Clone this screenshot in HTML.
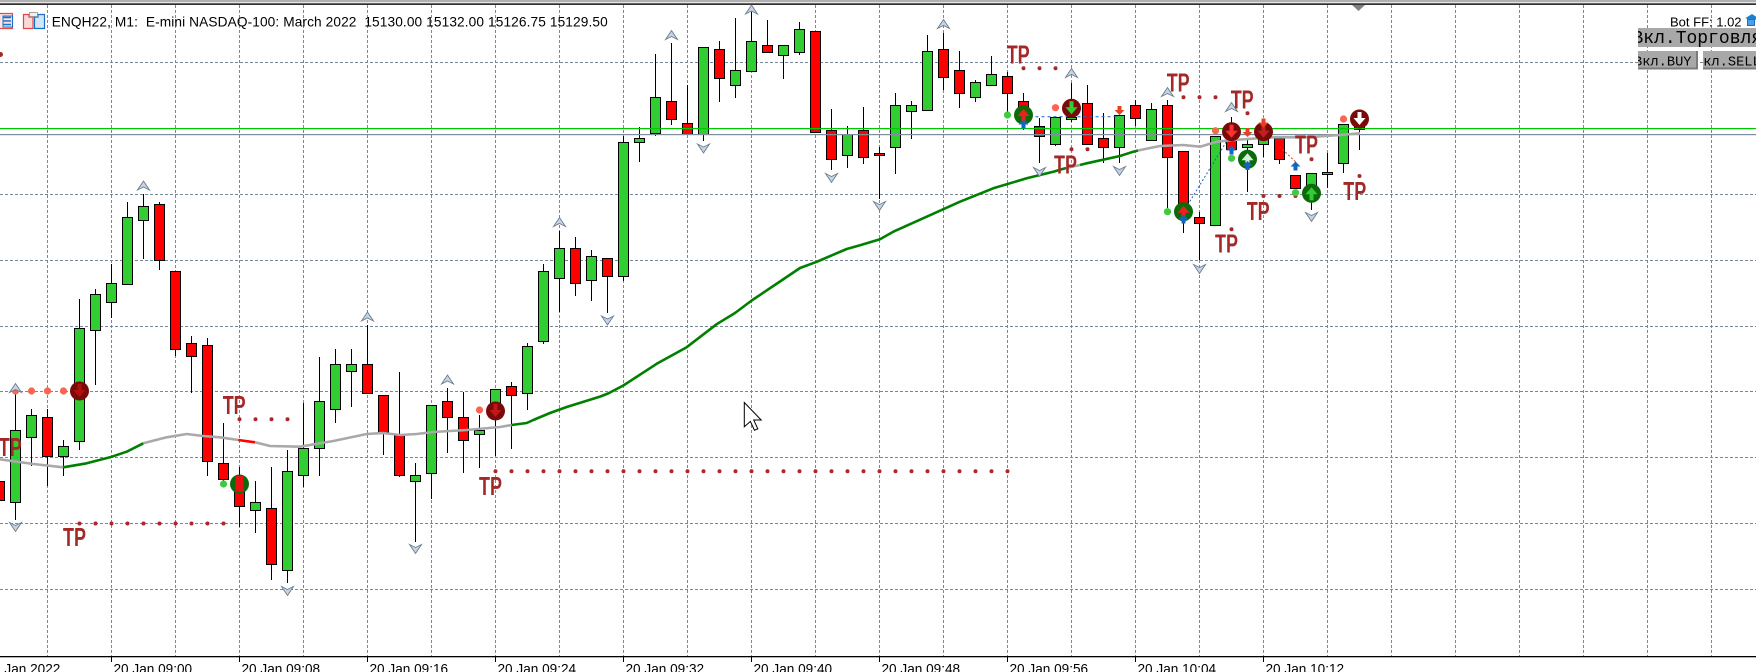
<!DOCTYPE html>
<html><head><meta charset="utf-8">
<style>
html,body{margin:0;padding:0;background:#fff;overflow:hidden;width:1756px;height:672px}
svg{display:block}
text{font-family:"Liberation Sans",sans-serif}
.tp{font-family:"Liberation Sans Narrow","Liberation Sans",sans-serif;font-weight:bold;font-size:26px;fill:#a32828}
.mono{font-family:"Liberation Mono",monospace;fill:#000}
</style></head>
<body>
<svg xmlns="http://www.w3.org/2000/svg" width="1756" height="672" viewBox="0 0 1756 672">
<rect width="1756" height="672" fill="#fff"/>
<!-- top border -->
<rect x="0" y="0" width="1756" height="2.3" fill="#b0b0b0"/>
<rect x="0" y="3.4" width="1756" height="1.4" fill="#000"/>
<!-- grid -->
<path d="M47.5 5V656M111.5 5V656M175.5 5V656M239.5 5V656M303.5 5V656M367.5 5V656M431.5 5V656M495.5 5V656M559.5 5V656M623.5 5V656M687.5 5V656M751.5 5V656M815.5 5V656M879.5 5V656M943.5 5V656M1007.5 5V656M1071.5 5V656M1135.5 5V656M1199.5 5V656M1263.5 5V656M1327.5 5V656M1391.5 5V656M1455.5 5V656M1519.5 5V656M1583.5 5V656M1647.5 5V656M1711.5 5V656" stroke="#778899" stroke-width="1" stroke-dasharray="3,2" fill="none"/>
<path d="M0 62.5H1756M0 128.5H1756M0 194.5H1756M0 260.5H1756M0 326.5H1756M0 391.5H1756M0 457.5H1756M0 523.5H1756M0 589.5H1756" stroke="#778899" stroke-width="1" stroke-dasharray="3,2" fill="none"/>
<!-- x axis -->
<rect x="0" y="656" width="1756" height="1.3" fill="#000"/>
<path d="M-16.5 656V662M111.5 656V662M239.5 656V662M367.5 656V662M495.5 656V662M623.5 656V662M751.5 656V662M879.5 656V662M1007.5 656V662M1135.5 656V662M1263.5 656V662" stroke="#000" stroke-width="1"/>
<g font-size="13.6" fill="#000">
<text x="-14.5" y="673.5">20 Jan 2022</text>
<text x="113.5" y="673.5">20 Jan 09:00</text>
<text x="241.5" y="673.5">20 Jan 09:08</text>
<text x="369.5" y="673.5">20 Jan 09:16</text>
<text x="497.5" y="673.5">20 Jan 09:24</text>
<text x="625.5" y="673.5">20 Jan 09:32</text>
<text x="753.5" y="673.5">20 Jan 09:40</text>
<text x="881.5" y="673.5">20 Jan 09:48</text>
<text x="1009.5" y="673.5">20 Jan 09:56</text>
<text x="1137.5" y="673.5">20 Jan 10:04</text>
<text x="1265.5" y="673.5">20 Jan 10:12</text>
</g>
<!-- wicks -->
<path d="M-0.5 476V506M15.5 393V520M31.5 409V466M47.5 409V486M63.5 440V476M79.5 299V450M95.5 289V385M111.5 264V318M127.5 202V284M143.5 194V259M159.5 202V270M175.5 271V356M191.5 336V393M207.5 338V476M223.5 423V482M239.5 467V527M255.5 481V533M271.5 467V580M287.5 450V583M303.5 403V487M319.5 357V476M335.5 349V423M351.5 349V407M367.5 325V393M383.5 395V455M399.5 372V477M415.5 463V542M431.5 405V499M447.5 388V453M463.5 392V473M479.5 415V468M495.5 389V456M511.5 382V449M527.5 343V410M543.5 264V344M559.5 231V312M575.5 237V296M591.5 250V301M607.5 258V313M623.5 136V281M639.5 127V162M655.5 54V136M671.5 43V125M687.5 85V134M703.5 47V141M719.5 41V102M735.5 18V98M751.5 12V71M767.5 20V52M783.5 45V79M799.5 22V55M815.5 31V132M831.5 109V170M847.5 126V168M863.5 107V164M879.5 147V199M895.5 93V174M911.5 101V139M927.5 35V110M943.5 33V90M959.5 51V108M975.5 80V102M991.5 56V85M1007.5 72V115M1023.5 93V130M1039.5 118V163M1055.5 117V146M1071.5 83V122M1087.5 85V144M1103.5 113V163M1119.5 115V163M1135.5 100V126M1151.5 103V140M1167.5 100V208M1183.5 151V233M1199.5 212V260M1215.5 136V225M1231.5 117V149M1247.5 139V192M1263.5 133V157M1279.5 138V164M1295.5 175V188M1311.5 173V210M1327.5 153V188M1343.5 124V173M1359.5 119V150" stroke="#000" stroke-width="1" fill="none"/>
<!-- green bodies -->
<g fill="#32cd32" stroke="#000" stroke-width="1">
<rect x="10.5" y="430.5" width="10" height="72"/>
<rect x="26.5" y="415.5" width="10" height="22"/>
<rect x="58.5" y="446.5" width="10" height="10"/>
<rect x="74.5" y="328.5" width="10" height="113"/>
<rect x="90.5" y="294.5" width="10" height="36"/>
<rect x="106.5" y="283.5" width="10" height="19"/>
<rect x="122.5" y="217.5" width="10" height="67"/>
<rect x="138.5" y="206.5" width="10" height="14"/>
<rect x="250.5" y="502.5" width="10" height="8"/>
<rect x="282.5" y="471.5" width="10" height="99"/>
<rect x="298.5" y="448.5" width="10" height="27"/>
<rect x="314.5" y="401.5" width="10" height="47"/>
<rect x="330.5" y="364.5" width="10" height="45"/>
<rect x="346.5" y="364.5" width="10" height="7"/>
<rect x="410.5" y="475.5" width="10" height="6"/>
<rect x="426.5" y="405.5" width="10" height="68"/>
<rect x="474.5" y="430.5" width="10" height="4"/>
<rect x="490.5" y="389.5" width="10" height="18"/>
<rect x="522.5" y="346.5" width="10" height="47"/>
<rect x="538.5" y="271.5" width="10" height="70"/>
<rect x="554.5" y="248.5" width="10" height="30"/>
<rect x="586.5" y="256.5" width="10" height="24"/>
<rect x="618.5" y="142.5" width="10" height="134"/>
<rect x="634.5" y="138.5" width="10" height="4"/>
<rect x="650.5" y="97.5" width="10" height="36"/>
<rect x="698.5" y="47.5" width="10" height="87"/>
<rect x="730.5" y="70.5" width="10" height="15"/>
<rect x="746.5" y="41.5" width="10" height="30"/>
<rect x="778.5" y="45.5" width="10" height="10"/>
<rect x="794.5" y="29.5" width="10" height="23"/>
<rect x="842.5" y="134.5" width="10" height="21"/>
<rect x="890.5" y="105.5" width="10" height="42"/>
<rect x="906.5" y="105.5" width="10" height="6"/>
<rect x="922.5" y="51.5" width="10" height="59"/>
<rect x="970.5" y="82.5" width="10" height="15"/>
<rect x="986.5" y="74.5" width="10" height="11"/>
<rect x="1050.5" y="117.5" width="10" height="27"/>
<rect x="1066.5" y="117.5" width="10" height="2"/>
<rect x="1114.5" y="115.5" width="10" height="32"/>
<rect x="1146.5" y="109.5" width="10" height="31"/>
<rect x="1210.5" y="136.5" width="10" height="89"/>
<rect x="1242.5" y="144.5" width="10" height="3"/>
<rect x="1258.5" y="133.5" width="10" height="11"/>
<rect x="1306.5" y="173.5" width="10" height="25"/>
<rect x="1322.5" y="172.5" width="10" height="2"/>
<rect x="1338.5" y="124.5" width="10" height="39"/>
</g>
<!-- red bodies -->
<g fill="#ff0000" stroke="#000" stroke-width="1">
<rect x="-5.5" y="481.5" width="10" height="19"/>
<rect x="42.5" y="417.5" width="10" height="39"/>
<rect x="154.5" y="204.5" width="10" height="56"/>
<rect x="170.5" y="271.5" width="10" height="78"/>
<rect x="186.5" y="343.5" width="10" height="13"/>
<rect x="202.5" y="345.5" width="10" height="116"/>
<rect x="218.5" y="463.5" width="10" height="16"/>
<rect x="234.5" y="479.5" width="10" height="27"/>
<rect x="266.5" y="508.5" width="10" height="56"/>
<rect x="362.5" y="364.5" width="10" height="29"/>
<rect x="378.5" y="395.5" width="10" height="37"/>
<rect x="394.5" y="435.5" width="10" height="40"/>
<rect x="442.5" y="401.5" width="10" height="16"/>
<rect x="458.5" y="417.5" width="10" height="23"/>
<rect x="506.5" y="386.5" width="10" height="9"/>
<rect x="570.5" y="248.5" width="10" height="35"/>
<rect x="602.5" y="258.5" width="10" height="18"/>
<rect x="666.5" y="101.5" width="10" height="18"/>
<rect x="682.5" y="123.5" width="10" height="11"/>
<rect x="714.5" y="49.5" width="10" height="29"/>
<rect x="762.5" y="45.5" width="10" height="7"/>
<rect x="810.5" y="31.5" width="10" height="101"/>
<rect x="826.5" y="130.5" width="10" height="29"/>
<rect x="858.5" y="130.5" width="10" height="27"/>
<rect x="874.5" y="153.5" width="10" height="2"/>
<rect x="938.5" y="49.5" width="10" height="28"/>
<rect x="954.5" y="70.5" width="10" height="23"/>
<rect x="1002.5" y="76.5" width="10" height="17"/>
<rect x="1018.5" y="101.5" width="10" height="17"/>
<rect x="1034.5" y="126.5" width="10" height="10"/>
<rect x="1082.5" y="103.5" width="10" height="41"/>
<rect x="1098.5" y="138.5" width="10" height="9"/>
<rect x="1130.5" y="105.5" width="10" height="13"/>
<rect x="1162.5" y="105.5" width="10" height="52"/>
<rect x="1178.5" y="151.5" width="10" height="59"/>
<rect x="1194.5" y="217.5" width="10" height="6"/>
<rect x="1226.5" y="140.5" width="10" height="9"/>
<rect x="1274.5" y="138.5" width="10" height="21"/>
<rect x="1290.5" y="175.5" width="10" height="13"/>
<rect x="1354.5" y="125.5" width="10" height="4"/>
</g>
<!-- level lines -->
<rect x="0" y="128" width="1756" height="1.2" fill="#00c800"/>
<rect x="0" y="134" width="1756" height="1.2" fill="#7f8c99"/>
<!-- MA -->
<g fill="none" stroke-width="2.6" stroke-linejoin="round" stroke-linecap="butt">
<path d="M-2 459L33.3 464L63.3 467.3" stroke="#a9a9a9"/>
<path d="M63.3 467.3L86.7 463.3L110 457.3L126.7 451.7L143.3 443.3" stroke="#008000"/>
<path d="M143.3 443.3L166.7 437.3L186.7 434L203.3 436L220 437.3L238.3 440" stroke="#a9a9a9"/>
<path d="M238.3 440L255 442.3" stroke="#ff0000"/>
<path d="M255 442.3L270 446L300 446.7L333.3 441L366.7 434L383.3 433L400 435L416.7 434L433.3 432L466.7 430L500 427L511.7 425" stroke="#a9a9a9"/>
<path d="M511.7 425L526.7 423L533.3 420L550 413L566.7 407L600 396.6L608.3 393.4L623.3 385.5L656.7 363.8L686.7 347.2L716.7 324.2L735 313L751.7 300.5L780 281.5L800 268L816.7 261.8L846.7 249L860 245.3L880 239.2L893.3 231.7L926.7 216.7L960 201.7L993.3 188.3L1026.7 178.3L1053.3 171.7L1066 168" stroke="#008000"/>
<path d="M1066 168L1080 165" stroke="#a9a9a9"/>
<path d="M1080 165L1086.7 163.3L1120 156L1133.3 151.7L1138 150.5" stroke="#008000"/>
<path d="M1138 150.5L1160 146L1183.3 145L1200 146.7L1216.7 141.7L1233.3 140L1273.3 137.3L1306.7 137.3L1340 135L1360 133.3" stroke="#a9a9a9"/>
</g>
<!-- TP dotted lines -->
<g stroke="#a52a2a" stroke-width="4" stroke-linecap="round" stroke-dasharray="0 16" fill="none">
<path d="M79.5 523.5H224"/>
<path d="M239.5 419.3H288"/>
<path d="M495.5 471.3H1008"/>
<path d="M1023.5 68.3H1056"/>
<path d="M1071.5 149.3H1088"/>
<path d="M1183.5 97.3H1216"/>
<path d="M1263.5 196H1296"/>
</g>
<g fill="#a52a2a">
<circle cx="1247.5" cy="113.3" r="2"/>
<circle cx="1311.5" cy="159.3" r="2"/>
<circle cx="1231.5" cy="229.3" r="2"/>
<circle cx="1359.5" cy="176" r="2"/>
<circle cx="0.5" cy="54.5" r="2.5"/>
</g>
<!-- salmon dots -->
<g fill="#fa6450">
<circle cx="15.5" cy="391" r="3.6"/><circle cx="31.5" cy="391" r="3.6"/><circle cx="47.5" cy="391" r="3.6"/><circle cx="63.5" cy="391" r="3.6"/>
<circle cx="479.5" cy="410" r="3.6"/><circle cx="1055.5" cy="107.7" r="3.6"/><circle cx="1215.5" cy="130.7" r="3.6"/><circle cx="1343.5" cy="119" r="3.6"/>
</g>
<!-- green dots -->
<g fill="#3ccc3c">
<circle cx="223.5" cy="484" r="3.6"/><circle cx="1007.5" cy="115" r="3.6"/><circle cx="1167.5" cy="211.7" r="3.6"/><circle cx="1231.5" cy="158.3" r="3.6"/><circle cx="1295.5" cy="192.7" r="3.6"/>
</g>
<!-- chevron markers -->
<g fill="#c4d4e6" stroke="#6c7c8e" stroke-width="0.9">
<path transform="translate(15.5,388)" d="M0 -4.5L6 4.5L0 1.5L-6 4.5Z"/>
<path transform="translate(143.5,185.5)" d="M0 -4.5L6 4.5L0 1.5L-6 4.5Z"/>
<path transform="translate(367.5,316.5)" d="M0 -4.5L6 4.5L0 1.5L-6 4.5Z"/>
<path transform="translate(447.5,379.5)" d="M0 -4.5L6 4.5L0 1.5L-6 4.5Z"/>
<path transform="translate(559.5,222)" d="M0 -4.5L6 4.5L0 1.5L-6 4.5Z"/>
<path transform="translate(671.5,35)" d="M0 -4.5L6 4.5L0 1.5L-6 4.5Z"/>
<path transform="translate(751.5,9.5)" d="M0 -4.5L6 4.5L0 1.5L-6 4.5Z"/>
<path transform="translate(943.5,24)" d="M0 -4.5L6 4.5L0 1.5L-6 4.5Z"/>
<path transform="translate(1071.5,73)" d="M0 -4.5L6 4.5L0 1.5L-6 4.5Z"/>
<path transform="translate(1167.5,92)" d="M0 -4.5L6 4.5L0 1.5L-6 4.5Z"/>
<path transform="translate(1231.5,107)" d="M0 -4.5L6 4.5L0 1.5L-6 4.5Z"/>
<path transform="translate(15.5,527)" d="M0 4.5L6 -4.5L0 -1.5L-6 -4.5Z"/>
<path transform="translate(287.5,591)" d="M0 4.5L6 -4.5L0 -1.5L-6 -4.5Z"/>
<path transform="translate(415.5,549)" d="M0 4.5L6 -4.5L0 -1.5L-6 -4.5Z"/>
<path transform="translate(607.5,320.5)" d="M0 4.5L6 -4.5L0 -1.5L-6 -4.5Z"/>
<path transform="translate(703.5,148.5)" d="M0 4.5L6 -4.5L0 -1.5L-6 -4.5Z"/>
<path transform="translate(831.5,178)" d="M0 4.5L6 -4.5L0 -1.5L-6 -4.5Z"/>
<path transform="translate(879.5,206)" d="M0 4.5L6 -4.5L0 -1.5L-6 -4.5Z"/>
<path transform="translate(1039.5,172)" d="M0 4.5L6 -4.5L0 -1.5L-6 -4.5Z"/>
<path transform="translate(1119.5,171)" d="M0 4.5L6 -4.5L0 -1.5L-6 -4.5Z"/>
<path transform="translate(1199.5,269)" d="M0 4.5L6 -4.5L0 -1.5L-6 -4.5Z"/>
<path transform="translate(1311.5,217)" d="M0 4.5L6 -4.5L0 -1.5L-6 -4.5Z"/>
</g>
<!-- signal lines -->
<path d="M1023.5 116.7H1119.5" stroke="#1e64c8" stroke-width="1" stroke-dasharray="3,3"/>
<path d="M1183.5 211.7L1231.5 133.3" stroke="#1e64c8" stroke-width="1" stroke-dasharray="2,2"/>
<path d="M1279.5 146.7L1295.5 161.7" stroke="#e04020" stroke-width="1" stroke-dasharray="2,2"/>
<!-- circle markers -->
<g transform="translate(79.5,391)"><circle r="9.5" fill="#7a0a0a"/><path d="M-2 -7h4v6h4l-6 7-6-7h4z" fill="#b01010"/></g>
<g transform="translate(239.5,484)"><circle r="9.5" fill="#0b6b0b"/><rect x="-4" y="-8" width="8" height="16" fill="#e81010"/></g>
<g transform="translate(495.5,411)"><circle r="9.5" fill="#7a0a0a"/><path d="M-2 -7h4v6h4l-6 7-6-7h4z" fill="#c01818"/></g>
<g transform="translate(1023.5,115)"><circle r="9.5" fill="#0b6b0b"/><path d="M-2 7h4v-6h4l-6-7-6 7h4z" fill="#f02020"/></g>
<g transform="translate(1071.5,108.3)"><circle r="9.5" fill="#7a0a0a"/><path d="M-2 -7h4v6h4l-6 7-6-7h4z" fill="#32cd32"/></g>
<g transform="translate(1183.5,211.7)"><circle r="9.5" fill="#0b6b0b"/><path d="M-2 7h4v-6h4l-6-7-6 7h4z" fill="#f02020"/></g>
<g transform="translate(1231.5,131.7)"><circle r="9.5" fill="#7a0a0a"/><path d="M-2 -7h4v6h4l-6 7-6-7h4z" fill="#ff3030"/></g>
<g transform="translate(1247.5,159.3)"><circle r="9.5" fill="#0b6b0b"/><path d="M-2 7h4v-6h4l-6-7-6 7h4z" fill="#d8f0d8"/></g>
<g transform="translate(1263.5,131.7)"><circle r="9.5" fill="#7a0a0a"/><path d="M-2 -7h4v6h4l-6 7-6-7h4z" fill="#c02020"/></g>
<g transform="translate(1311.5,193.3)"><circle r="9.5" fill="#0b6b0b"/><path d="M-2 7h4v-6h4l-6-7-6 7h4z" fill="#32cd32"/></g>
<g transform="translate(1359.5,119)"><circle r="9.5" fill="#7a0a0a"/><path d="M-2 -7h4v6h4l-6 7-6-7h4z" fill="#ffffff"/></g>
<!-- blue up arrows -->
<g fill="#1565c0">
<path transform="translate(1023.5,124.5)" d="M0 -5L5 0H2V4H-2V0H-5Z"/>
<path transform="translate(1183.5,219.5)" d="M0 -5L5 0H2V4H-2V0H-5Z"/>
<path transform="translate(1231.5,150.5)" d="M0 -5L5 0H2V4H-2V0H-5Z"/>
<path transform="translate(1247.5,166)" d="M0 -5L5 0H2V4H-2V0H-5Z"/>
<path transform="translate(1295.5,166.5)" d="M0 -5L5 0H2V4H-2V0H-5Z"/>
</g>
<!-- red down arrows -->
<g fill="#e84020">
<path transform="translate(1119.5,110)" d="M0 5L5 0H2V-4H-2V0H-5Z"/>
<path transform="translate(1247.5,132)" d="M0 5L5 0H2V-4H-2V0H-5Z"/>
<path transform="translate(1263.5,122.5)" d="M0 5L5 0H2V-4H-2V0H-5Z"/>
</g>
<!-- TP labels -->
<text class="tp" x="-1.3" y="456" textLength="23" lengthAdjust="spacingAndGlyphs">TP</text>
<text class="tp" x="63" y="546" textLength="23" lengthAdjust="spacingAndGlyphs">TP</text>
<text class="tp" x="222.7" y="414" textLength="23" lengthAdjust="spacingAndGlyphs">TP</text>
<text class="tp" x="479" y="495" textLength="23" lengthAdjust="spacingAndGlyphs">TP</text>
<text class="tp" x="1006.7" y="63.3" textLength="23" lengthAdjust="spacingAndGlyphs">TP</text>
<text class="tp" x="1054" y="173.3" textLength="23" lengthAdjust="spacingAndGlyphs">TP</text>
<text class="tp" x="1166.7" y="91.7" textLength="23" lengthAdjust="spacingAndGlyphs">TP</text>
<text class="tp" x="1230.7" y="108.3" textLength="23" lengthAdjust="spacingAndGlyphs">TP</text>
<text class="tp" x="1295" y="153.3" textLength="23" lengthAdjust="spacingAndGlyphs">TP</text>
<text class="tp" x="1246.7" y="220" textLength="23" lengthAdjust="spacingAndGlyphs">TP</text>
<text class="tp" x="1215" y="252.7" textLength="23" lengthAdjust="spacingAndGlyphs">TP</text>
<text class="tp" x="1343.3" y="200" textLength="23" lengthAdjust="spacingAndGlyphs">TP</text>
<!-- mouse cursor -->
<path transform="translate(744.3,402.5) scale(1.35)" d="M0 0V18L4.5 14L7.5 20.5L10 19.5L7 13H12.5Z" fill="#fff" stroke="#000" stroke-width="0.75" stroke-linejoin="miter"/>
<!-- shift marker -->
<path d="M1352 5H1365L1358.5 11Z" fill="#808080"/>
<!-- title icons -->
<rect x="-3.5" y="13.5" width="16" height="15" fill="#fde4e4" stroke="#e04848" stroke-width="1.2"/>
<path d="M3 17.5H11M3 21H11M3 24.5H11" stroke="#1e6ec8" stroke-width="1.6"/>
<rect x="3" y="16" width="9.5" height="11" fill="none" stroke="#1e6ec8" stroke-width="1"/>
<path d="M23.5 14.5H29V17H33V28.5H23.5Z" fill="#fbd8d8" stroke="#e04848" stroke-width="1.2"/>
<path d="M34.5 17H38V14.5H44.5V28.5H34.5Z" fill="#cfe6fb" stroke="#1e6ec8" stroke-width="1.2"/>
<rect x="29.5" y="12.5" width="8" height="4" fill="#f0f0f0" stroke="#909090" stroke-width="0.8"/>
<!-- title -->
<text x="51.7" y="26.5" font-size="13.7" fill="#000" textLength="556" xml:space="preserve" style="white-space:pre">ENQH22, M1:  E-mini NASDAQ-100: March 2022  15130.00 15132.00 15126.75 15129.50</text>
<!-- right legend -->
<text x="1670" y="26.5" font-size="13" fill="#000">Bot FF: 1.02</text>
<path d="M1745.5 18L1752 14L1758 18L1752 22Z" fill="#1e7fd0"/>
<rect x="1747.5" y="19.5" width="7" height="6" fill="#4aa0e8" stroke="#1e6ec8" stroke-width="1"/>
<svg x="1638" y="28" width="118" height="19">
<rect width="118" height="19" fill="#a8a8a8"/>
<text class="mono" x="-5.5" y="15" font-size="18">Вкл.Торговля</text>
</svg>
<svg x="1638" y="51" width="60" height="18.5">
<rect width="60" height="18.5" fill="#a8a8a8"/>
<rect x="0" y="16.5" width="60" height="2" fill="#7c7c7c"/>
<rect x="58" y="0" width="2" height="18.5" fill="#7c7c7c"/>
<text class="mono" x="-4" y="14.5" font-size="13.7">Вкл.BUY</text>
</svg>
<svg x="1703" y="51" width="53" height="18.5">
<rect width="53" height="18.5" fill="#a8a8a8"/>
<rect x="0" y="16.5" width="53" height="2" fill="#7c7c7c"/>
<text class="mono" x="-8" y="14.5" font-size="13.7">Вкл.SELL</text>
</svg>
</svg>
</body></html>
